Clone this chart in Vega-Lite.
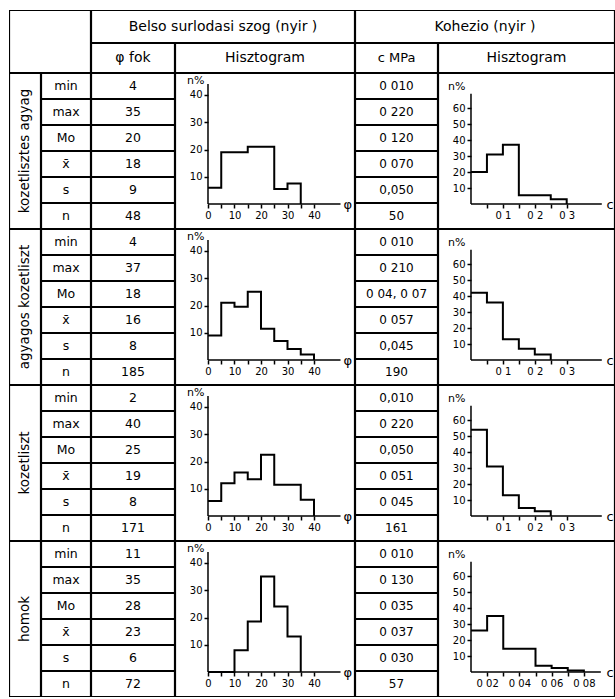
{
  "$schema": "https://vega.github.io/schema/vega-lite/v6.json",
  "background": "white",
  "padding": {"left": 9, "top": 10, "right": 0, "bottom": 0},
  "spacing": 0,
  "datasets": {
    "stats": [
      {"g": "kozetlisztes agyag", "stat": "min", "phi": "4", "c": "0 010"},
      {"g": "kozetlisztes agyag", "stat": "max", "phi": "35", "c": "0 220"},
      {"g": "kozetlisztes agyag", "stat": "Mo", "phi": "20", "c": "0 120"},
      {"g": "kozetlisztes agyag", "stat": "x\u0304", "phi": "18", "c": "0 070"},
      {"g": "kozetlisztes agyag", "stat": "s", "phi": "9", "c": "0,050"},
      {"g": "kozetlisztes agyag", "stat": "n", "phi": "48", "c": "50"},
      {"g": "agyagos kozetliszt", "stat": "min", "phi": "4", "c": "0 010"},
      {"g": "agyagos kozetliszt", "stat": "max", "phi": "37", "c": "0 210"},
      {"g": "agyagos kozetliszt", "stat": "Mo", "phi": "18", "c": "0 04, 0 07"},
      {"g": "agyagos kozetliszt", "stat": "x\u0304", "phi": "16", "c": "0 057"},
      {"g": "agyagos kozetliszt", "stat": "s", "phi": "8", "c": "0,045"},
      {"g": "agyagos kozetliszt", "stat": "n", "phi": "185", "c": "190"},
      {"g": "kozetliszt", "stat": "min", "phi": "2", "c": "0,010"},
      {"g": "kozetliszt", "stat": "max", "phi": "40", "c": "0 220"},
      {"g": "kozetliszt", "stat": "Mo", "phi": "25", "c": "0,050"},
      {"g": "kozetliszt", "stat": "x\u0304", "phi": "19", "c": "0 051"},
      {"g": "kozetliszt", "stat": "s", "phi": "8", "c": "0 045"},
      {"g": "kozetliszt", "stat": "n", "phi": "171", "c": "161"},
      {"g": "homok", "stat": "min", "phi": "11", "c": "0 010"},
      {"g": "homok", "stat": "max", "phi": "35", "c": "0 130"},
      {"g": "homok", "stat": "Mo", "phi": "28", "c": "0 035"},
      {"g": "homok", "stat": "x\u0304", "phi": "23", "c": "0 037"},
      {"g": "homok", "stat": "s", "phi": "6", "c": "0 030"},
      {"g": "homok", "stat": "n", "phi": "72", "c": "57"}
    ],
    "phi_hist": [
      {"g": "kozetlisztes agyag", "phi": 0, "pct": 6},
      {"g": "kozetlisztes agyag", "phi": 5, "pct": 19},
      {"g": "kozetlisztes agyag", "phi": 15, "pct": 21},
      {"g": "kozetlisztes agyag", "phi": 25, "pct": 5.5},
      {"g": "kozetlisztes agyag", "phi": 30, "pct": 7.5},
      {"g": "kozetlisztes agyag", "phi": 35, "pct": 0},
      {"g": "agyagos kozetliszt", "phi": 0, "pct": 9},
      {"g": "agyagos kozetliszt", "phi": 5, "pct": 21},
      {"g": "agyagos kozetliszt", "phi": 10, "pct": 19.5},
      {"g": "agyagos kozetliszt", "phi": 15, "pct": 25},
      {"g": "agyagos kozetliszt", "phi": 20, "pct": 11.5},
      {"g": "agyagos kozetliszt", "phi": 25, "pct": 7},
      {"g": "agyagos kozetliszt", "phi": 30, "pct": 4},
      {"g": "agyagos kozetliszt", "phi": 35, "pct": 2},
      {"g": "agyagos kozetliszt", "phi": 40, "pct": 0},
      {"g": "kozetliszt", "phi": 0, "pct": 5.5},
      {"g": "kozetliszt", "phi": 5, "pct": 12},
      {"g": "kozetliszt", "phi": 10, "pct": 16},
      {"g": "kozetliszt", "phi": 15, "pct": 13.5},
      {"g": "kozetliszt", "phi": 20, "pct": 22.5},
      {"g": "kozetliszt", "phi": 25, "pct": 11.5},
      {"g": "kozetliszt", "phi": 35, "pct": 6},
      {"g": "kozetliszt", "phi": 40, "pct": 0},
      {"g": "homok", "phi": 0, "pct": 0},
      {"g": "homok", "phi": 10, "pct": 8},
      {"g": "homok", "phi": 15, "pct": 18.5},
      {"g": "homok", "phi": 20, "pct": 35},
      {"g": "homok", "phi": 25, "pct": 24},
      {"g": "homok", "phi": 30, "pct": 13},
      {"g": "homok", "phi": 35, "pct": 0}
    ],
    "c_hist": [
      {"g": "kozetlisztes agyag", "c": 0, "pct": 20},
      {"g": "kozetlisztes agyag", "c": 0.05, "pct": 31},
      {"g": "kozetlisztes agyag", "c": 0.1, "pct": 37},
      {"g": "kozetlisztes agyag", "c": 0.15, "pct": 5.5},
      {"g": "kozetlisztes agyag", "c": 0.25, "pct": 3},
      {"g": "kozetlisztes agyag", "c": 0.3, "pct": 0},
      {"g": "agyagos kozetliszt", "c": 0, "pct": 42},
      {"g": "agyagos kozetliszt", "c": 0.05, "pct": 36},
      {"g": "agyagos kozetliszt", "c": 0.1, "pct": 13},
      {"g": "agyagos kozetliszt", "c": 0.15, "pct": 7},
      {"g": "agyagos kozetliszt", "c": 0.2, "pct": 3.5},
      {"g": "agyagos kozetliszt", "c": 0.25, "pct": 0},
      {"g": "kozetliszt", "c": 0, "pct": 54},
      {"g": "kozetliszt", "c": 0.05, "pct": 31},
      {"g": "kozetliszt", "c": 0.1, "pct": 13},
      {"g": "kozetliszt", "c": 0.15, "pct": 5},
      {"g": "kozetliszt", "c": 0.2, "pct": 3},
      {"g": "kozetliszt", "c": 0.25, "pct": 0},
      {"g": "homok", "c": 0.01, "pct": 26},
      {"g": "homok", "c": 0.02, "pct": 35},
      {"g": "homok", "c": 0.03, "pct": 14.5},
      {"g": "homok", "c": 0.05, "pct": 4},
      {"g": "homok", "c": 0.06, "pct": 2.5},
      {"g": "homok", "c": 0.07, "pct": 1},
      {"g": "homok", "c": 0.08, "pct": 0}
    ]
  },
  "vconcat": [
    {
      "spacing": 0,
      "hconcat": [
        {"width": 82, "height": 63, "data": {"values": [{"t": ""}]}, "layer": [{"mark": {"type": "rect", "filled": false, "stroke": "black", "strokeWidth": 2.2, "clip": true}, "encoding": {}}, {"mark": {"type": "text", "fontSize": 14}, "encoding": {"text": {"field": "t"}}}]},
        {
          "spacing": 0,
          "vconcat": [
            {"width": 264, "height": 33, "data": {"values": [{"t": "Belso surlodasi szog (nyir )"}]}, "layer": [{"mark": {"type": "rect", "filled": false, "stroke": "black", "strokeWidth": 2.2, "clip": true}, "encoding": {}}, {"mark": {"type": "text", "fontSize": 14}, "encoding": {"text": {"field": "t"}}}]},
            {
              "spacing": 0, "bounds": "flush",
              "hconcat": [
                {"width": 84, "height": 30, "data": {"values": [{"t": "\u03c6  fok"}]}, "layer": [{"mark": {"type": "rect", "filled": false, "stroke": "black", "strokeWidth": 2.2, "clip": true}, "encoding": {}}, {"mark": {"type": "text", "fontSize": 14}, "encoding": {"text": {"field": "t"}}}]},
                {"width": 180, "height": 30, "data": {"values": [{"t": "Hisztogram"}]}, "layer": [{"mark": {"type": "rect", "filled": false, "stroke": "black", "strokeWidth": 2.2, "clip": true}, "encoding": {}}, {"mark": {"type": "text", "fontSize": 14}, "encoding": {"text": {"field": "t"}}}]}
              ]
            }
          ]
        },
        {
          "spacing": 0,
          "vconcat": [
            {"width": 260, "height": 33, "data": {"values": [{"t": "Kohezio (nyir )"}]}, "layer": [{"mark": {"type": "rect", "filled": false, "stroke": "black", "strokeWidth": 2.2, "clip": true}, "encoding": {}}, {"mark": {"type": "text", "fontSize": 14}, "encoding": {"text": {"field": "t"}}}]},
            {
              "spacing": 0, "bounds": "flush",
              "hconcat": [
                {"width": 83, "height": 30, "data": {"values": [{"t": "c  MPa"}]}, "layer": [{"mark": {"type": "rect", "filled": false, "stroke": "black", "strokeWidth": 2.2, "clip": true}, "encoding": {}}, {"mark": {"type": "text", "fontSize": 13}, "encoding": {"text": {"field": "t"}}}]},
                {"width": 177, "height": 30, "data": {"values": [{"t": "Hisztogram"}]}, "layer": [{"mark": {"type": "rect", "filled": false, "stroke": "black", "strokeWidth": 2.2, "clip": true}, "encoding": {}}, {"mark": {"type": "text", "fontSize": 14}, "encoding": {"text": {"field": "t"}}}]}
              ]
            }
          ]
        }
      ]
    },
    {
      "spacing": 0, "bounds": "flush",
      "hconcat": [
        {"width": 32, "height": 156, "data": {"values": [{"g": "kozetlisztes agyag"}]}, "layer": [{"mark": {"type": "rect", "filled": false, "stroke": "black", "strokeWidth": 2.2, "clip": true}, "encoding": {}}, {"mark": {"type": "text", "angle": 270, "fontSize": 13.5}, "encoding": {"text": {"field": "g"}}}]},
        {"width": 50, "height": 156, "data": {"name": "stats"}, "transform": [{"filter": "datum.g == 'kozetlisztes agyag'"}],
         "layer": [
           {"mark": {"type": "rect", "filled": false, "stroke": "black", "strokeWidth": 2.2, "clip": true}, "encoding": {"y": {"field": "stat", "type": "nominal", "sort": null, "scale": {"type": "band", "paddingInner": 0, "paddingOuter": 0}, "axis": null}}},
           {"mark": {"type": "text", "fontSize": 12.5}, "encoding": {"y": {"field": "stat", "type": "nominal", "sort": null, "bandPosition": 0.5, "scale": {"type": "band", "paddingInner": 0, "paddingOuter": 0}, "axis": null}, "text": {"field": "stat"}}}
         ]},
        {"width": 84, "height": 156, "data": {"name": "stats"}, "transform": [{"filter": "datum.g == 'kozetlisztes agyag'"}],
         "layer": [
           {"mark": {"type": "rect", "filled": false, "stroke": "black", "strokeWidth": 2.2, "clip": true}, "encoding": {"y": {"field": "stat", "type": "nominal", "sort": null, "scale": {"type": "band", "paddingInner": 0, "paddingOuter": 0}, "axis": null}}},
           {"mark": {"type": "text", "fontSize": 12.5}, "encoding": {"y": {"field": "stat", "type": "nominal", "sort": null, "bandPosition": 0.5, "scale": {"type": "band", "paddingInner": 0, "paddingOuter": 0}, "axis": null}, "text": {"field": "phi"}}}
         ]},
        {"width": 180, "height": 156, "resolve": {"axis": {"x": "independent", "y": "independent"}},
         "layer": [
           {"data": {"values": [{}]}, "mark": {"type": "rect", "filled": false, "stroke": "black", "strokeWidth": 2.2, "clip": true},
            "encoding": {"x": {"datum": -12.45, "type": "quantitative", "scale": {"domain": [-12.45, 55.47], "nice": false, "zero": false}, "axis": null}, "x2": {"datum": 55.47}, "y": {"datum": -9.17, "type": "quantitative", "scale": {"domain": [-9.17, 48.07], "nice": false, "zero": false}, "axis": null}, "y2": {"datum": 48.07}}},
           {"data": {"values": [{}]}, "mark": {"type": "rule", "color": "black", "strokeWidth": 1.5},
            "encoding": {"x": {"datum": 0, "type": "quantitative", "scale": {"domain": [-12.45, 55.47], "nice": false, "zero": false}, "axis": null}, "x2": {"datum": 50}, "y": {"datum": 0, "type": "quantitative", "scale": {"domain": [-9.17, 48.07], "nice": false, "zero": false}, "axis": null}}},
           {"data": {"values": [{}]}, "mark": {"type": "rule", "color": "black", "strokeWidth": 1.5},
            "encoding": {"x": {"datum": 0, "type": "quantitative", "scale": {"domain": [-12.45, 55.47], "nice": false, "zero": false}, "axis": null}, "y": {"datum": 0, "type": "quantitative", "scale": {"domain": [-9.17, 48.07], "nice": false, "zero": false}, "axis": null}, "y2": {"datum": 44}}},
           {"data": {"name": "phi_hist"}, "transform": [{"filter": "datum.g == 'kozetlisztes agyag'"}], "mark": {"type": "line", "interpolate": "step-after", "color": "black", "strokeWidth": 2},
            "encoding": {
              "x": {"field": "phi", "type": "quantitative", "scale": {"domain": [-12.45, 55.47], "nice": false, "zero": false},
                    "axis": {"orient": "bottom", "offset": -25, "values": [0, 5, 10, 15, 20, 25, 30, 35, 40], "labelExpr": "datum.value % 10 === 0 ? datum.label : ''", "domain": false, "grid": false, "tickSize": 4, "tickWidth": 1.5, "tickColor": "black", "labelFontSize": 10, "labelColor": "black", "labelPadding": 2, "labelFlush": false, "labelOverlap": false, "title": "\u03c6", "titleX": 168, "titleY": 0, "titleAlign": "left", "titleBaseline": "middle", "titleFontSize": 13, "titleFontWeight": "normal", "titleColor": "black"}},
              "y": {"field": "pct", "type": "quantitative", "scale": {"domain": [-9.17, 48.07], "nice": false, "zero": false},
                    "axis": {"orient": "left", "offset": -33, "values": [10, 20, 30, 40], "domain": false, "grid": false, "tickSize": 4, "tickWidth": 1.5, "tickColor": "black", "labelFontSize": 10, "labelColor": "black", "labelPadding": 2, "labelOverlap": false, "title": "n%", "titleAngle": 0, "titleX": -4, "titleY": 7, "titleAlign": "right", "titleBaseline": "middle", "titleFontSize": 11, "titleFontWeight": "normal", "titleColor": "black"}}
            }}
         ]},
        {"width": 83, "height": 156, "data": {"name": "stats"}, "transform": [{"filter": "datum.g == 'kozetlisztes agyag'"}],
         "layer": [
           {"mark": {"type": "rect", "filled": false, "stroke": "black", "strokeWidth": 2.2, "clip": true}, "encoding": {"y": {"field": "stat", "type": "nominal", "sort": null, "scale": {"type": "band", "paddingInner": 0, "paddingOuter": 0}, "axis": null}}},
           {"mark": {"type": "text", "fontSize": 12}, "encoding": {"y": {"field": "stat", "type": "nominal", "sort": null, "bandPosition": 0.5, "scale": {"type": "band", "paddingInner": 0, "paddingOuter": 0}, "axis": null}, "text": {"field": "c"}}}
         ]},
        {"width": 177, "height": 156, "resolve": {"axis": {"x": "independent", "y": "independent"}},
         "layer": [
           {"data": {"values": [{}]}, "mark": {"type": "rect", "filled": false, "stroke": "black", "strokeWidth": 2.2, "clip": true},
            "encoding": {"x": {"datum": -0.1034, "type": "quantitative", "scale": {"domain": [-0.1034, 0.4514], "nice": false, "zero": false}, "axis": null}, "x2": {"datum": 0.4514}, "y": {"datum": -15.6, "type": "quantitative", "scale": {"domain": [-15.6, 81.9], "nice": false, "zero": false}, "axis": null}, "y2": {"datum": 81.9}}},
           {"data": {"values": [{}]}, "mark": {"type": "rule", "color": "black", "strokeWidth": 1.5},
            "encoding": {"x": {"datum": 0, "type": "quantitative", "scale": {"domain": [-0.1034, 0.4514], "nice": false, "zero": false}, "axis": null}, "x2": {"datum": 0.41}, "y": {"datum": 0, "type": "quantitative", "scale": {"domain": [-15.6, 81.9], "nice": false, "zero": false}, "axis": null}}},
           {"data": {"values": [{}]}, "mark": {"type": "rule", "color": "black", "strokeWidth": 1.5},
            "encoding": {"x": {"datum": 0, "type": "quantitative", "scale": {"domain": [-0.1034, 0.4514], "nice": false, "zero": false}, "axis": null}, "y": {"datum": 0, "type": "quantitative", "scale": {"domain": [-15.6, 81.9], "nice": false, "zero": false}, "axis": null}, "y2": {"datum": 69}}},
           {"data": {"name": "c_hist"}, "transform": [{"filter": "datum.g == 'kozetlisztes agyag'"}], "mark": {"type": "line", "interpolate": "step-after", "color": "black", "strokeWidth": 2},
            "encoding": {
              "x": {"field": "c", "type": "quantitative", "scale": {"domain": [-0.1034, 0.4514], "nice": false, "zero": false},
                    "axis": {"orient": "bottom", "offset": -25, "values": [0.05, 0.1, 0.15, 0.2, 0.25, 0.3], "labelExpr": "round(datum.value * 100) % 10 === 0 ? replace(format(datum.value, '.1f'), '.', ' ') : ''", "domain": false, "grid": false, "tickSize": 4, "tickWidth": 1.5, "tickColor": "black", "labelFontSize": 10, "labelColor": "black", "labelPadding": 2, "labelFlush": false, "labelOverlap": false, "title": "c", "titleX": 168, "titleY": 0, "titleAlign": "left", "titleBaseline": "middle", "titleFontSize": 13, "titleFontWeight": "normal", "titleColor": "black"}},
              "y": {"field": "pct", "type": "quantitative", "scale": {"domain": [-15.6, 81.9], "nice": false, "zero": false},
                    "axis": {"orient": "left", "offset": -33, "values": [10, 20, 30, 40, 50, 60], "domain": false, "grid": false, "tickSize": 4, "tickWidth": 1.5, "tickColor": "black", "labelFontSize": 10, "labelColor": "black", "labelPadding": 2, "labelOverlap": false, "title": "n%", "titleAngle": 0, "titleX": -6, "titleY": 13, "titleAlign": "right", "titleBaseline": "middle", "titleFontSize": 11, "titleFontWeight": "normal", "titleColor": "black"}}
            }}
         ]}
      ]
    },
    {
      "spacing": 0, "bounds": "flush",
      "hconcat": [
        {"width": 32, "height": 156, "data": {"values": [{"g": "agyagos kozetliszt"}]}, "layer": [{"mark": {"type": "rect", "filled": false, "stroke": "black", "strokeWidth": 2.2, "clip": true}, "encoding": {}}, {"mark": {"type": "text", "angle": 270, "fontSize": 13.5}, "encoding": {"text": {"field": "g"}}}]},
        {"width": 50, "height": 156, "data": {"name": "stats"}, "transform": [{"filter": "datum.g == 'agyagos kozetliszt'"}],
         "layer": [
           {"mark": {"type": "rect", "filled": false, "stroke": "black", "strokeWidth": 2.2, "clip": true}, "encoding": {"y": {"field": "stat", "type": "nominal", "sort": null, "scale": {"type": "band", "paddingInner": 0, "paddingOuter": 0}, "axis": null}}},
           {"mark": {"type": "text", "fontSize": 12.5}, "encoding": {"y": {"field": "stat", "type": "nominal", "sort": null, "bandPosition": 0.5, "scale": {"type": "band", "paddingInner": 0, "paddingOuter": 0}, "axis": null}, "text": {"field": "stat"}}}
         ]},
        {"width": 84, "height": 156, "data": {"name": "stats"}, "transform": [{"filter": "datum.g == 'agyagos kozetliszt'"}],
         "layer": [
           {"mark": {"type": "rect", "filled": false, "stroke": "black", "strokeWidth": 2.2, "clip": true}, "encoding": {"y": {"field": "stat", "type": "nominal", "sort": null, "scale": {"type": "band", "paddingInner": 0, "paddingOuter": 0}, "axis": null}}},
           {"mark": {"type": "text", "fontSize": 12.5}, "encoding": {"y": {"field": "stat", "type": "nominal", "sort": null, "bandPosition": 0.5, "scale": {"type": "band", "paddingInner": 0, "paddingOuter": 0}, "axis": null}, "text": {"field": "phi"}}}
         ]},
        {"width": 180, "height": 156, "resolve": {"axis": {"x": "independent", "y": "independent"}},
         "layer": [
           {"data": {"values": [{}]}, "mark": {"type": "rect", "filled": false, "stroke": "black", "strokeWidth": 2.2, "clip": true},
            "encoding": {"x": {"datum": -12.45, "type": "quantitative", "scale": {"domain": [-12.45, 55.47], "nice": false, "zero": false}, "axis": null}, "x2": {"datum": 55.47}, "y": {"datum": -9.17, "type": "quantitative", "scale": {"domain": [-9.17, 48.07], "nice": false, "zero": false}, "axis": null}, "y2": {"datum": 48.07}}},
           {"data": {"values": [{}]}, "mark": {"type": "rule", "color": "black", "strokeWidth": 1.5},
            "encoding": {"x": {"datum": 0, "type": "quantitative", "scale": {"domain": [-12.45, 55.47], "nice": false, "zero": false}, "axis": null}, "x2": {"datum": 50}, "y": {"datum": 0, "type": "quantitative", "scale": {"domain": [-9.17, 48.07], "nice": false, "zero": false}, "axis": null}}},
           {"data": {"values": [{}]}, "mark": {"type": "rule", "color": "black", "strokeWidth": 1.5},
            "encoding": {"x": {"datum": 0, "type": "quantitative", "scale": {"domain": [-12.45, 55.47], "nice": false, "zero": false}, "axis": null}, "y": {"datum": 0, "type": "quantitative", "scale": {"domain": [-9.17, 48.07], "nice": false, "zero": false}, "axis": null}, "y2": {"datum": 44}}},
           {"data": {"name": "phi_hist"}, "transform": [{"filter": "datum.g == 'agyagos kozetliszt'"}], "mark": {"type": "line", "interpolate": "step-after", "color": "black", "strokeWidth": 2},
            "encoding": {
              "x": {"field": "phi", "type": "quantitative", "scale": {"domain": [-12.45, 55.47], "nice": false, "zero": false},
                    "axis": {"orient": "bottom", "offset": -25, "values": [0, 5, 10, 15, 20, 25, 30, 35, 40], "labelExpr": "datum.value % 10 === 0 ? datum.label : ''", "domain": false, "grid": false, "tickSize": 4, "tickWidth": 1.5, "tickColor": "black", "labelFontSize": 10, "labelColor": "black", "labelPadding": 2, "labelFlush": false, "labelOverlap": false, "title": "\u03c6", "titleX": 168, "titleY": 0, "titleAlign": "left", "titleBaseline": "middle", "titleFontSize": 13, "titleFontWeight": "normal", "titleColor": "black"}},
              "y": {"field": "pct", "type": "quantitative", "scale": {"domain": [-9.17, 48.07], "nice": false, "zero": false},
                    "axis": {"orient": "left", "offset": -33, "values": [10, 20, 30, 40], "domain": false, "grid": false, "tickSize": 4, "tickWidth": 1.5, "tickColor": "black", "labelFontSize": 10, "labelColor": "black", "labelPadding": 2, "labelOverlap": false, "title": "n%", "titleAngle": 0, "titleX": -4, "titleY": 7, "titleAlign": "right", "titleBaseline": "middle", "titleFontSize": 11, "titleFontWeight": "normal", "titleColor": "black"}}
            }}
         ]},
        {"width": 83, "height": 156, "data": {"name": "stats"}, "transform": [{"filter": "datum.g == 'agyagos kozetliszt'"}],
         "layer": [
           {"mark": {"type": "rect", "filled": false, "stroke": "black", "strokeWidth": 2.2, "clip": true}, "encoding": {"y": {"field": "stat", "type": "nominal", "sort": null, "scale": {"type": "band", "paddingInner": 0, "paddingOuter": 0}, "axis": null}}},
           {"mark": {"type": "text", "fontSize": 12}, "encoding": {"y": {"field": "stat", "type": "nominal", "sort": null, "bandPosition": 0.5, "scale": {"type": "band", "paddingInner": 0, "paddingOuter": 0}, "axis": null}, "text": {"field": "c"}}}
         ]},
        {"width": 177, "height": 156, "resolve": {"axis": {"x": "independent", "y": "independent"}},
         "layer": [
           {"data": {"values": [{}]}, "mark": {"type": "rect", "filled": false, "stroke": "black", "strokeWidth": 2.2, "clip": true},
            "encoding": {"x": {"datum": -0.1034, "type": "quantitative", "scale": {"domain": [-0.1034, 0.4514], "nice": false, "zero": false}, "axis": null}, "x2": {"datum": 0.4514}, "y": {"datum": -15.6, "type": "quantitative", "scale": {"domain": [-15.6, 81.9], "nice": false, "zero": false}, "axis": null}, "y2": {"datum": 81.9}}},
           {"data": {"values": [{}]}, "mark": {"type": "rule", "color": "black", "strokeWidth": 1.5},
            "encoding": {"x": {"datum": 0, "type": "quantitative", "scale": {"domain": [-0.1034, 0.4514], "nice": false, "zero": false}, "axis": null}, "x2": {"datum": 0.41}, "y": {"datum": 0, "type": "quantitative", "scale": {"domain": [-15.6, 81.9], "nice": false, "zero": false}, "axis": null}}},
           {"data": {"values": [{}]}, "mark": {"type": "rule", "color": "black", "strokeWidth": 1.5},
            "encoding": {"x": {"datum": 0, "type": "quantitative", "scale": {"domain": [-0.1034, 0.4514], "nice": false, "zero": false}, "axis": null}, "y": {"datum": 0, "type": "quantitative", "scale": {"domain": [-15.6, 81.9], "nice": false, "zero": false}, "axis": null}, "y2": {"datum": 69}}},
           {"data": {"name": "c_hist"}, "transform": [{"filter": "datum.g == 'agyagos kozetliszt'"}], "mark": {"type": "line", "interpolate": "step-after", "color": "black", "strokeWidth": 2},
            "encoding": {
              "x": {"field": "c", "type": "quantitative", "scale": {"domain": [-0.1034, 0.4514], "nice": false, "zero": false},
                    "axis": {"orient": "bottom", "offset": -25, "values": [0.05, 0.1, 0.15, 0.2, 0.25, 0.3], "labelExpr": "round(datum.value * 100) % 10 === 0 ? replace(format(datum.value, '.1f'), '.', ' ') : ''", "domain": false, "grid": false, "tickSize": 4, "tickWidth": 1.5, "tickColor": "black", "labelFontSize": 10, "labelColor": "black", "labelPadding": 2, "labelFlush": false, "labelOverlap": false, "title": "c", "titleX": 168, "titleY": 0, "titleAlign": "left", "titleBaseline": "middle", "titleFontSize": 13, "titleFontWeight": "normal", "titleColor": "black"}},
              "y": {"field": "pct", "type": "quantitative", "scale": {"domain": [-15.6, 81.9], "nice": false, "zero": false},
                    "axis": {"orient": "left", "offset": -33, "values": [10, 20, 30, 40, 50, 60], "domain": false, "grid": false, "tickSize": 4, "tickWidth": 1.5, "tickColor": "black", "labelFontSize": 10, "labelColor": "black", "labelPadding": 2, "labelOverlap": false, "title": "n%", "titleAngle": 0, "titleX": -6, "titleY": 13, "titleAlign": "right", "titleBaseline": "middle", "titleFontSize": 11, "titleFontWeight": "normal", "titleColor": "black"}}
            }}
         ]}
      ]
    },
    {
      "spacing": 0, "bounds": "flush",
      "hconcat": [
        {"width": 32, "height": 156, "data": {"values": [{"g": "kozetliszt"}]}, "layer": [{"mark": {"type": "rect", "filled": false, "stroke": "black", "strokeWidth": 2.2, "clip": true}, "encoding": {}}, {"mark": {"type": "text", "angle": 270, "fontSize": 13.5}, "encoding": {"text": {"field": "g"}}}]},
        {"width": 50, "height": 156, "data": {"name": "stats"}, "transform": [{"filter": "datum.g == 'kozetliszt'"}],
         "layer": [
           {"mark": {"type": "rect", "filled": false, "stroke": "black", "strokeWidth": 2.2, "clip": true}, "encoding": {"y": {"field": "stat", "type": "nominal", "sort": null, "scale": {"type": "band", "paddingInner": 0, "paddingOuter": 0}, "axis": null}}},
           {"mark": {"type": "text", "fontSize": 12.5}, "encoding": {"y": {"field": "stat", "type": "nominal", "sort": null, "bandPosition": 0.5, "scale": {"type": "band", "paddingInner": 0, "paddingOuter": 0}, "axis": null}, "text": {"field": "stat"}}}
         ]},
        {"width": 84, "height": 156, "data": {"name": "stats"}, "transform": [{"filter": "datum.g == 'kozetliszt'"}],
         "layer": [
           {"mark": {"type": "rect", "filled": false, "stroke": "black", "strokeWidth": 2.2, "clip": true}, "encoding": {"y": {"field": "stat", "type": "nominal", "sort": null, "scale": {"type": "band", "paddingInner": 0, "paddingOuter": 0}, "axis": null}}},
           {"mark": {"type": "text", "fontSize": 12.5}, "encoding": {"y": {"field": "stat", "type": "nominal", "sort": null, "bandPosition": 0.5, "scale": {"type": "band", "paddingInner": 0, "paddingOuter": 0}, "axis": null}, "text": {"field": "phi"}}}
         ]},
        {"width": 180, "height": 156, "resolve": {"axis": {"x": "independent", "y": "independent"}},
         "layer": [
           {"data": {"values": [{}]}, "mark": {"type": "rect", "filled": false, "stroke": "black", "strokeWidth": 2.2, "clip": true},
            "encoding": {"x": {"datum": -12.45, "type": "quantitative", "scale": {"domain": [-12.45, 55.47], "nice": false, "zero": false}, "axis": null}, "x2": {"datum": 55.47}, "y": {"datum": -9.17, "type": "quantitative", "scale": {"domain": [-9.17, 48.07], "nice": false, "zero": false}, "axis": null}, "y2": {"datum": 48.07}}},
           {"data": {"values": [{}]}, "mark": {"type": "rule", "color": "black", "strokeWidth": 1.5},
            "encoding": {"x": {"datum": 0, "type": "quantitative", "scale": {"domain": [-12.45, 55.47], "nice": false, "zero": false}, "axis": null}, "x2": {"datum": 50}, "y": {"datum": 0, "type": "quantitative", "scale": {"domain": [-9.17, 48.07], "nice": false, "zero": false}, "axis": null}}},
           {"data": {"values": [{}]}, "mark": {"type": "rule", "color": "black", "strokeWidth": 1.5},
            "encoding": {"x": {"datum": 0, "type": "quantitative", "scale": {"domain": [-12.45, 55.47], "nice": false, "zero": false}, "axis": null}, "y": {"datum": 0, "type": "quantitative", "scale": {"domain": [-9.17, 48.07], "nice": false, "zero": false}, "axis": null}, "y2": {"datum": 44}}},
           {"data": {"name": "phi_hist"}, "transform": [{"filter": "datum.g == 'kozetliszt'"}], "mark": {"type": "line", "interpolate": "step-after", "color": "black", "strokeWidth": 2},
            "encoding": {
              "x": {"field": "phi", "type": "quantitative", "scale": {"domain": [-12.45, 55.47], "nice": false, "zero": false},
                    "axis": {"orient": "bottom", "offset": -25, "values": [0, 5, 10, 15, 20, 25, 30, 35, 40], "labelExpr": "datum.value % 10 === 0 ? datum.label : ''", "domain": false, "grid": false, "tickSize": 4, "tickWidth": 1.5, "tickColor": "black", "labelFontSize": 10, "labelColor": "black", "labelPadding": 2, "labelFlush": false, "labelOverlap": false, "title": "\u03c6", "titleX": 168, "titleY": 0, "titleAlign": "left", "titleBaseline": "middle", "titleFontSize": 13, "titleFontWeight": "normal", "titleColor": "black"}},
              "y": {"field": "pct", "type": "quantitative", "scale": {"domain": [-9.17, 48.07], "nice": false, "zero": false},
                    "axis": {"orient": "left", "offset": -33, "values": [10, 20, 30, 40], "domain": false, "grid": false, "tickSize": 4, "tickWidth": 1.5, "tickColor": "black", "labelFontSize": 10, "labelColor": "black", "labelPadding": 2, "labelOverlap": false, "title": "n%", "titleAngle": 0, "titleX": -4, "titleY": 7, "titleAlign": "right", "titleBaseline": "middle", "titleFontSize": 11, "titleFontWeight": "normal", "titleColor": "black"}}
            }}
         ]},
        {"width": 83, "height": 156, "data": {"name": "stats"}, "transform": [{"filter": "datum.g == 'kozetliszt'"}],
         "layer": [
           {"mark": {"type": "rect", "filled": false, "stroke": "black", "strokeWidth": 2.2, "clip": true}, "encoding": {"y": {"field": "stat", "type": "nominal", "sort": null, "scale": {"type": "band", "paddingInner": 0, "paddingOuter": 0}, "axis": null}}},
           {"mark": {"type": "text", "fontSize": 12}, "encoding": {"y": {"field": "stat", "type": "nominal", "sort": null, "bandPosition": 0.5, "scale": {"type": "band", "paddingInner": 0, "paddingOuter": 0}, "axis": null}, "text": {"field": "c"}}}
         ]},
        {"width": 177, "height": 156, "resolve": {"axis": {"x": "independent", "y": "independent"}},
         "layer": [
           {"data": {"values": [{}]}, "mark": {"type": "rect", "filled": false, "stroke": "black", "strokeWidth": 2.2, "clip": true},
            "encoding": {"x": {"datum": -0.1034, "type": "quantitative", "scale": {"domain": [-0.1034, 0.4514], "nice": false, "zero": false}, "axis": null}, "x2": {"datum": 0.4514}, "y": {"datum": -15.6, "type": "quantitative", "scale": {"domain": [-15.6, 81.9], "nice": false, "zero": false}, "axis": null}, "y2": {"datum": 81.9}}},
           {"data": {"values": [{}]}, "mark": {"type": "rule", "color": "black", "strokeWidth": 1.5},
            "encoding": {"x": {"datum": 0, "type": "quantitative", "scale": {"domain": [-0.1034, 0.4514], "nice": false, "zero": false}, "axis": null}, "x2": {"datum": 0.41}, "y": {"datum": 0, "type": "quantitative", "scale": {"domain": [-15.6, 81.9], "nice": false, "zero": false}, "axis": null}}},
           {"data": {"values": [{}]}, "mark": {"type": "rule", "color": "black", "strokeWidth": 1.5},
            "encoding": {"x": {"datum": 0, "type": "quantitative", "scale": {"domain": [-0.1034, 0.4514], "nice": false, "zero": false}, "axis": null}, "y": {"datum": 0, "type": "quantitative", "scale": {"domain": [-15.6, 81.9], "nice": false, "zero": false}, "axis": null}, "y2": {"datum": 69}}},
           {"data": {"name": "c_hist"}, "transform": [{"filter": "datum.g == 'kozetliszt'"}], "mark": {"type": "line", "interpolate": "step-after", "color": "black", "strokeWidth": 2},
            "encoding": {
              "x": {"field": "c", "type": "quantitative", "scale": {"domain": [-0.1034, 0.4514], "nice": false, "zero": false},
                    "axis": {"orient": "bottom", "offset": -25, "values": [0.05, 0.1, 0.15, 0.2, 0.25, 0.3], "labelExpr": "round(datum.value * 100) % 10 === 0 ? replace(format(datum.value, '.1f'), '.', ' ') : ''", "domain": false, "grid": false, "tickSize": 4, "tickWidth": 1.5, "tickColor": "black", "labelFontSize": 10, "labelColor": "black", "labelPadding": 2, "labelFlush": false, "labelOverlap": false, "title": "c", "titleX": 168, "titleY": 0, "titleAlign": "left", "titleBaseline": "middle", "titleFontSize": 13, "titleFontWeight": "normal", "titleColor": "black"}},
              "y": {"field": "pct", "type": "quantitative", "scale": {"domain": [-15.6, 81.9], "nice": false, "zero": false},
                    "axis": {"orient": "left", "offset": -33, "values": [10, 20, 30, 40, 50, 60], "domain": false, "grid": false, "tickSize": 4, "tickWidth": 1.5, "tickColor": "black", "labelFontSize": 10, "labelColor": "black", "labelPadding": 2, "labelOverlap": false, "title": "n%", "titleAngle": 0, "titleX": -6, "titleY": 13, "titleAlign": "right", "titleBaseline": "middle", "titleFontSize": 11, "titleFontWeight": "normal", "titleColor": "black"}}
            }}
         ]}
      ]
    },
    {
      "spacing": 0, "bounds": "flush",
      "hconcat": [
        {"width": 32, "height": 156, "data": {"values": [{"g": "homok"}]}, "layer": [{"mark": {"type": "rect", "filled": false, "stroke": "black", "strokeWidth": 2.2, "clip": true}, "encoding": {}}, {"mark": {"type": "text", "angle": 270, "fontSize": 13.5}, "encoding": {"text": {"field": "g"}}}]},
        {"width": 50, "height": 156, "data": {"name": "stats"}, "transform": [{"filter": "datum.g == 'homok'"}],
         "layer": [
           {"mark": {"type": "rect", "filled": false, "stroke": "black", "strokeWidth": 2.2, "clip": true}, "encoding": {"y": {"field": "stat", "type": "nominal", "sort": null, "scale": {"type": "band", "paddingInner": 0, "paddingOuter": 0}, "axis": null}}},
           {"mark": {"type": "text", "fontSize": 12.5}, "encoding": {"y": {"field": "stat", "type": "nominal", "sort": null, "bandPosition": 0.5, "scale": {"type": "band", "paddingInner": 0, "paddingOuter": 0}, "axis": null}, "text": {"field": "stat"}}}
         ]},
        {"width": 84, "height": 156, "data": {"name": "stats"}, "transform": [{"filter": "datum.g == 'homok'"}],
         "layer": [
           {"mark": {"type": "rect", "filled": false, "stroke": "black", "strokeWidth": 2.2, "clip": true}, "encoding": {"y": {"field": "stat", "type": "nominal", "sort": null, "scale": {"type": "band", "paddingInner": 0, "paddingOuter": 0}, "axis": null}}},
           {"mark": {"type": "text", "fontSize": 12.5}, "encoding": {"y": {"field": "stat", "type": "nominal", "sort": null, "bandPosition": 0.5, "scale": {"type": "band", "paddingInner": 0, "paddingOuter": 0}, "axis": null}, "text": {"field": "phi"}}}
         ]},
        {"width": 180, "height": 156, "resolve": {"axis": {"x": "independent", "y": "independent"}},
         "layer": [
           {"data": {"values": [{}]}, "mark": {"type": "rect", "filled": false, "stroke": "black", "strokeWidth": 2.2, "clip": true},
            "encoding": {"x": {"datum": -12.45, "type": "quantitative", "scale": {"domain": [-12.45, 55.47], "nice": false, "zero": false}, "axis": null}, "x2": {"datum": 55.47}, "y": {"datum": -9.17, "type": "quantitative", "scale": {"domain": [-9.17, 48.07], "nice": false, "zero": false}, "axis": null}, "y2": {"datum": 48.07}}},
           {"data": {"values": [{}]}, "mark": {"type": "rule", "color": "black", "strokeWidth": 1.5},
            "encoding": {"x": {"datum": 0, "type": "quantitative", "scale": {"domain": [-12.45, 55.47], "nice": false, "zero": false}, "axis": null}, "x2": {"datum": 50}, "y": {"datum": 0, "type": "quantitative", "scale": {"domain": [-9.17, 48.07], "nice": false, "zero": false}, "axis": null}}},
           {"data": {"values": [{}]}, "mark": {"type": "rule", "color": "black", "strokeWidth": 1.5},
            "encoding": {"x": {"datum": 0, "type": "quantitative", "scale": {"domain": [-12.45, 55.47], "nice": false, "zero": false}, "axis": null}, "y": {"datum": 0, "type": "quantitative", "scale": {"domain": [-9.17, 48.07], "nice": false, "zero": false}, "axis": null}, "y2": {"datum": 44}}},
           {"data": {"name": "phi_hist"}, "transform": [{"filter": "datum.g == 'homok'"}], "mark": {"type": "line", "interpolate": "step-after", "color": "black", "strokeWidth": 2},
            "encoding": {
              "x": {"field": "phi", "type": "quantitative", "scale": {"domain": [-12.45, 55.47], "nice": false, "zero": false},
                    "axis": {"orient": "bottom", "offset": -25, "values": [0, 5, 10, 15, 20, 25, 30, 35, 40], "labelExpr": "datum.value % 10 === 0 ? datum.label : ''", "domain": false, "grid": false, "tickSize": 4, "tickWidth": 1.5, "tickColor": "black", "labelFontSize": 10, "labelColor": "black", "labelPadding": 2, "labelFlush": false, "labelOverlap": false, "title": "\u03c6", "titleX": 168, "titleY": 0, "titleAlign": "left", "titleBaseline": "middle", "titleFontSize": 13, "titleFontWeight": "normal", "titleColor": "black"}},
              "y": {"field": "pct", "type": "quantitative", "scale": {"domain": [-9.17, 48.07], "nice": false, "zero": false},
                    "axis": {"orient": "left", "offset": -33, "values": [10, 20, 30, 40], "domain": false, "grid": false, "tickSize": 4, "tickWidth": 1.5, "tickColor": "black", "labelFontSize": 10, "labelColor": "black", "labelPadding": 2, "labelOverlap": false, "title": "n%", "titleAngle": 0, "titleX": -4, "titleY": 7, "titleAlign": "right", "titleBaseline": "middle", "titleFontSize": 11, "titleFontWeight": "normal", "titleColor": "black"}}
            }}
         ]},
        {"width": 83, "height": 156, "data": {"name": "stats"}, "transform": [{"filter": "datum.g == 'homok'"}],
         "layer": [
           {"mark": {"type": "rect", "filled": false, "stroke": "black", "strokeWidth": 2.2, "clip": true}, "encoding": {"y": {"field": "stat", "type": "nominal", "sort": null, "scale": {"type": "band", "paddingInner": 0, "paddingOuter": 0}, "axis": null}}},
           {"mark": {"type": "text", "fontSize": 12}, "encoding": {"y": {"field": "stat", "type": "nominal", "sort": null, "bandPosition": 0.5, "scale": {"type": "band", "paddingInner": 0, "paddingOuter": 0}, "axis": null}, "text": {"field": "c"}}}
         ]},
        {"width": 177, "height": 156, "resolve": {"axis": {"x": "independent", "y": "independent"}},
         "layer": [
           {"data": {"values": [{}]}, "mark": {"type": "rect", "filled": false, "stroke": "black", "strokeWidth": 2.2, "clip": true},
            "encoding": {"x": {"datum": -0.01047, "type": "quantitative", "scale": {"domain": [-0.01047, 0.0993], "nice": false, "zero": false}, "axis": null}, "x2": {"datum": 0.0993}, "y": {"datum": -15.6, "type": "quantitative", "scale": {"domain": [-15.6, 81.9], "nice": false, "zero": false}, "axis": null}, "y2": {"datum": 81.9}}},
           {"data": {"values": [{}]}, "mark": {"type": "rule", "color": "black", "strokeWidth": 1.5},
            "encoding": {"x": {"datum": 0.01, "type": "quantitative", "scale": {"domain": [-0.01047, 0.0993], "nice": false, "zero": false}, "axis": null}, "x2": {"datum": 0.0905}, "y": {"datum": 0, "type": "quantitative", "scale": {"domain": [-15.6, 81.9], "nice": false, "zero": false}, "axis": null}}},
           {"data": {"values": [{}]}, "mark": {"type": "rule", "color": "black", "strokeWidth": 1.5},
            "encoding": {"x": {"datum": 0.01, "type": "quantitative", "scale": {"domain": [-0.01047, 0.0993], "nice": false, "zero": false}, "axis": null}, "y": {"datum": 0, "type": "quantitative", "scale": {"domain": [-15.6, 81.9], "nice": false, "zero": false}, "axis": null}, "y2": {"datum": 69}}},
           {"data": {"name": "c_hist"}, "transform": [{"filter": "datum.g == 'homok'"}], "mark": {"type": "line", "interpolate": "step-after", "color": "black", "strokeWidth": 2},
            "encoding": {
              "x": {"field": "c", "type": "quantitative", "scale": {"domain": [-0.01047, 0.0993], "nice": false, "zero": false},
                    "axis": {"orient": "bottom", "offset": -25, "values": [0.02, 0.03, 0.04, 0.05, 0.06, 0.07, 0.08], "labelExpr": "round(datum.value * 100) % 2 === 0 ? replace(format(datum.value, '.2f'), '.', ' ') : ''", "domain": false, "grid": false, "tickSize": 4, "tickWidth": 1.5, "tickColor": "black", "labelFontSize": 10, "labelColor": "black", "labelPadding": 2, "labelFlush": false, "labelOverlap": false, "title": "c", "titleX": 168, "titleY": 0, "titleAlign": "left", "titleBaseline": "middle", "titleFontSize": 13, "titleFontWeight": "normal", "titleColor": "black"}},
              "y": {"field": "pct", "type": "quantitative", "scale": {"domain": [-15.6, 81.9], "nice": false, "zero": false},
                    "axis": {"orient": "left", "offset": -33, "values": [10, 20, 30, 40, 50, 60], "domain": false, "grid": false, "tickSize": 4, "tickWidth": 1.5, "tickColor": "black", "labelFontSize": 10, "labelColor": "black", "labelPadding": 2, "labelOverlap": false, "title": "n%", "titleAngle": 0, "titleX": -6, "titleY": 13, "titleAlign": "right", "titleBaseline": "middle", "titleFontSize": 11, "titleFontWeight": "normal", "titleColor": "black"}}
            }}
         ]}
      ]
    }
  ],
  "config": {
    "font": "DejaVu Sans",
    "view": {"stroke": null},
    "axis": {"grid": false},
    "text": {"color": "black"},
    "concat": {"spacing": 0}
  }
}
